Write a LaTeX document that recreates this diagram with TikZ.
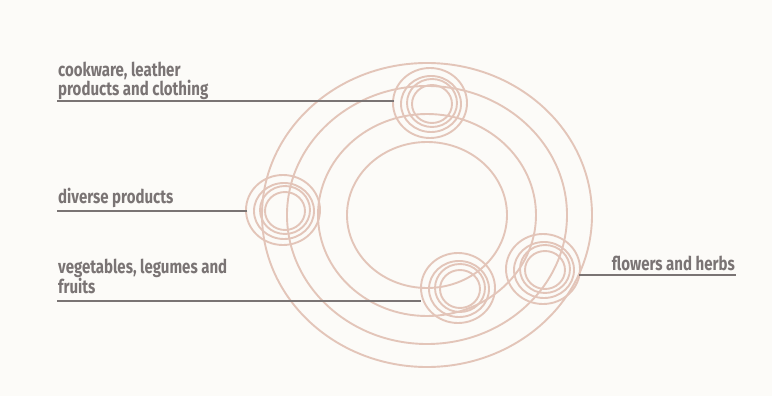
\documentclass[tikz,border=0pt]{standalone}
\usepackage{fontspec}
\usetikzlibrary{calc}
\newfontfamily\labfont[FakeStretch=0.79]{Fira Sans}
\definecolor{ringc}{HTML}{E3C5B9}
\definecolor{lblc}{HTML}{7A7474}
\definecolor{bgc}{HTML}{FCFBF8}
\begin{document}
\begin{tikzpicture}[x=1pt,y=-1pt,
  ringline/.style={draw=ringc, line width=1.9pt},
  leader/.style={draw=lblc, line width=2pt},
  lbltext/.style={font=\labfont\bfseries\fontsize{19}{19}\selectfont, text=lblc, inner sep=0pt, align=left}]
\fill[bgc] (0,0) rectangle (772,396);
\useasboundingbox (0,0) rectangle (772,396);
% big concentric rings
\foreach \rx/\ry in {165/152,140/129,109/101,80/73}
  \draw[ringline] (427,215) ellipse [x radius=\rx pt, y radius=\ry pt];
% small clusters
\coordinate (ctop) at (430,103);
\coordinate (cleft) at (283,210);
\coordinate (cbot) at (458,288);
\coordinate (cright) at (543,269);
\foreach \c in {ctop,cleft,cbot,cright}{
  \draw[ringline] (\c) ellipse [x radius=37pt, y radius=35pt];
  \draw[ringline] ($(\c)+(1,1)$) ellipse [x radius=30pt, y radius=28pt];
  \draw[ringline] ($(\c)+(2,0)$) ellipse [x radius=25pt, y radius=24pt];
  \draw[ringline] ($(\c)+(2,1)$) ellipse [x radius=20pt, y radius=19pt];
}
% leader end points
\coordinate (ltop0) at (57,101);   \coordinate (ltop1) at (394,101);
\coordinate (lleft0) at (57,211);  \coordinate (lleft1) at (247,211);
\coordinate (lbot0) at (57,301);   \coordinate (lbot1) at (421,301);
\coordinate (lright0) at (579,275); \coordinate (lright1) at (736,275);
\draw[leader] (ltop0) -- (ltop1);
\draw[leader] (lleft0) -- (lleft1);
\draw[leader] (lbot0) -- (lbot1);
\draw[leader] (lright0) -- (lright1);
% labels
\node[lbltext, anchor=south west] (tcook) at (58,99.5) {cookware, leather\\products and clothing};
\node[lbltext, anchor=base west] (tdiv) at (58,203) {diverse products};
\node[lbltext, anchor=south west] (tveg) at (58,294.5) {vegetables, legumes and\\fruits};
\node[lbltext, anchor=base east] (tflow) at (735,270) {flowers and herbs};
\end{tikzpicture}
\end{document}
